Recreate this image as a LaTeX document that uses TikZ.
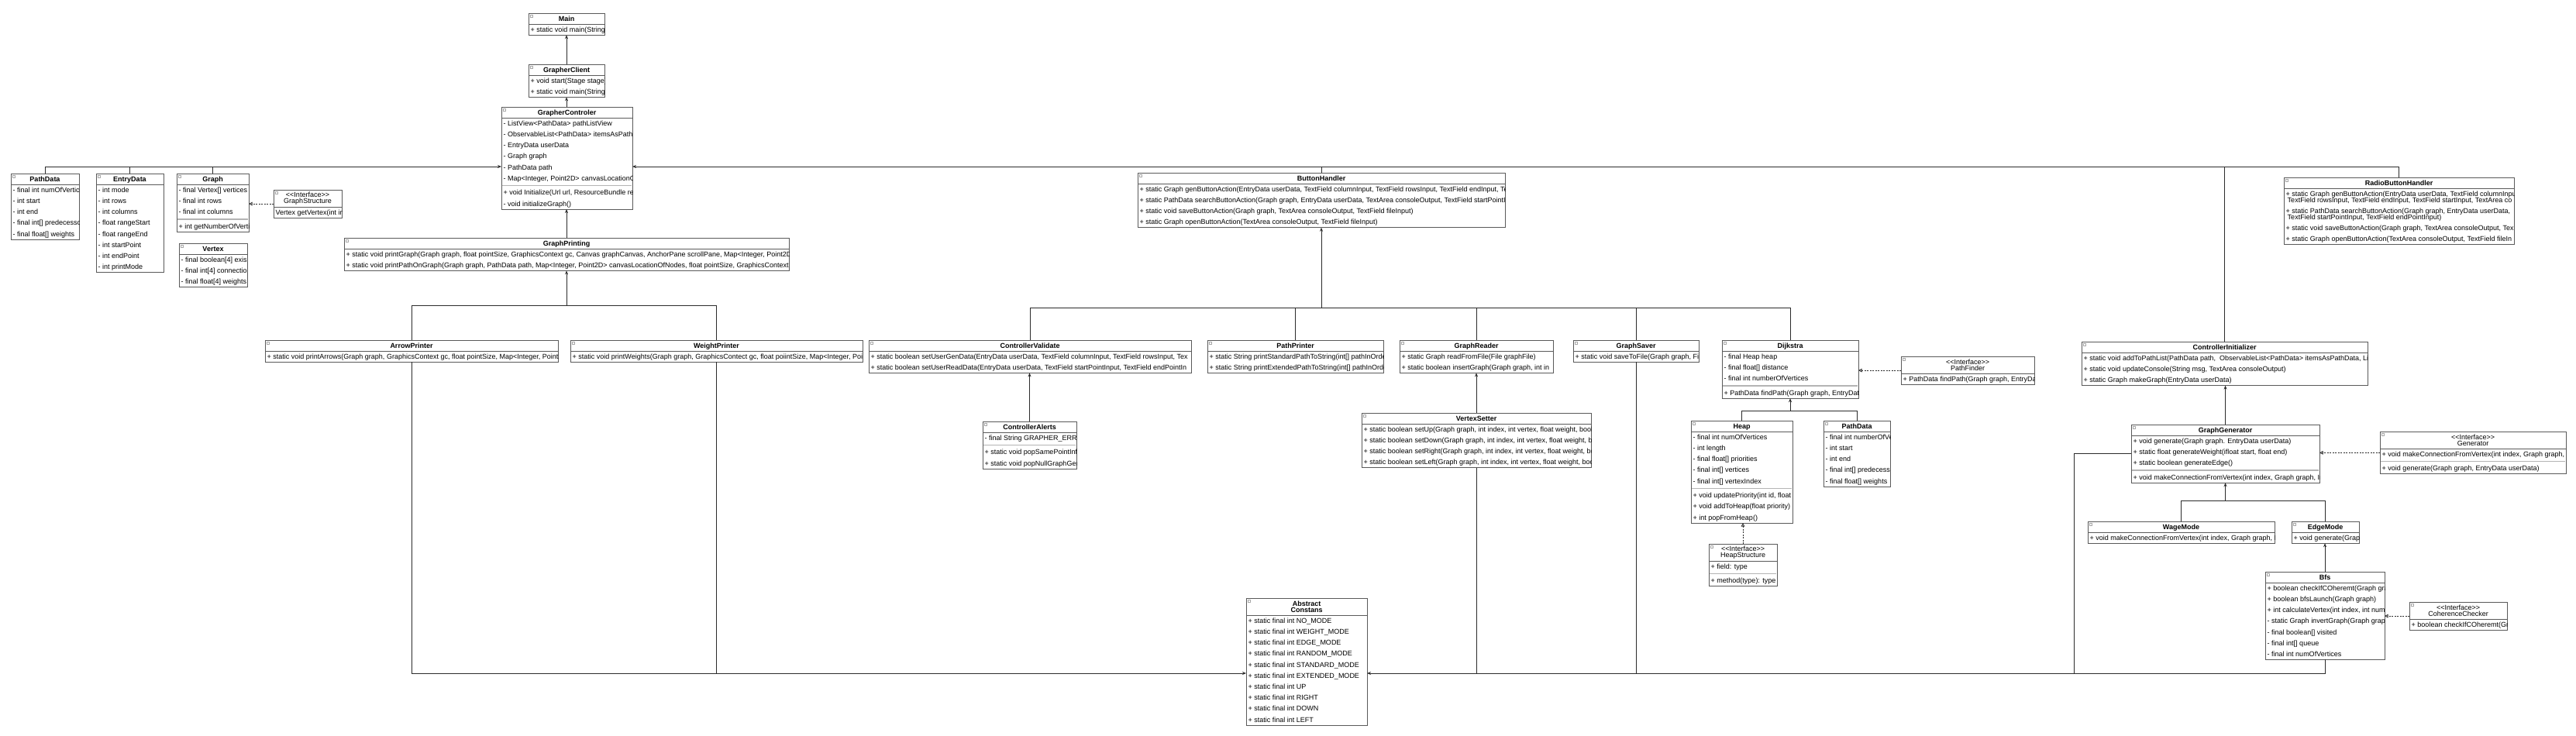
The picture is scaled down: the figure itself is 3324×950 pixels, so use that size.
\documentclass[tikz,border=0pt]{standalone}
\usepackage{fontspec}
\setmainfont{Liberation Sans}
\usetikzlibrary{arrows.meta,calc}
\definecolor{bdr}{HTML}{5A5A5A}
\definecolor{lnc}{HTML}{2B2B2B}
\definecolor{sepc}{HTML}{B4B4B4}
\definecolor{icn}{HTML}{A8A8A8}
\tikzset{
 cbox/.style={draw=bdr, fill=white, line width=0.9pt, inner sep=0pt, outer sep=0pt},
 hline/.style={draw=bdr, line width=0.9pt},
 sepl/.style={draw=sepc, line width=1.4pt},
 rowtxt/.style={anchor=base west, inner sep=0pt, font=\fontsize{9}{10}\selectfont},
 ttl/.style={anchor=base, yshift=-3.2pt, inner sep=0pt, font=\bfseries\fontsize{9}{10}\selectfont},
 ititle/.style={anchor=center, align=center, inner sep=0pt, font=\fontsize{9}{8}\selectfont},
 wire/.style={draw=lnc, line width=0.9pt},
 arr/.style={wire, -{Stealth[length=5pt,width=4pt]}},
 real/.style={draw=lnc, line width=0.8pt, dash pattern=on 2pt off 1.5pt, -{Triangle[open,length=4.5pt,width=4.5pt]}},
 icon/.style={draw=icn, line width=0.4pt},
}
% name, x, y, w, h, header height, title style, title
\newcommand\umlbox[8]{%
 \node[cbox, minimum width=#4pt, minimum height=#5pt, anchor=north west] (#1) at (#2,#3) {};
 \draw[hline] (#2,{#3+#6}) -- ++(#4,0);
 \draw[icon] ({#2+1.8},{#3+1.8}) rectangle ++(3.2,3.2);
 \node[#7] (#1-t) at ({#2+#4/2},{#3+#6/2}) {#8};}
% prefix, box, x, y of first row centre, list
\newcommand\umlrows[5]{%
 \begin{scope}
 \clip (#2.north west) rectangle (#2.south east);
 \foreach \t [count=\i] in {#5}{\node[rowtxt] (#1\i) at ({#3+2.5},{#4+(\i-1)*14.2+3.2}) {\t};}
 \end{scope}}
\newcommand\umlsep[3]{\draw[sepl] ({#1+0.6},#2) -- ({#1+#3-0.6},#2);}
\begin{document}
\begin{tikzpicture}[x=1pt,y=-1pt]
\fill[white] (0,0) rectangle (3324,950);
\useasboundingbox (0,0) rectangle (3324,950);

% Main
\umlbox{main}{682}{17}{98}{28.2}{14}{ttl}{Main}
\umlrows{main-r}{main}{682}{38.1}{{+ static void main(String}}
% GrapherClient
\umlbox{client}{682}{83}{98}{42.4}{14}{ttl}{GrapherClient}
\umlrows{client-r}{client}{682}{104.1}{{+ void start(Stage stage)},{+ static void main(String}}
% GrapherControler
\umlbox{ctrl}{647}{138}{169}{132}{14}{ttl}{GrapherControler}
\umlrows{ctrl-a}{ctrl}{647}{159.1}{{- ListView<PathData> pathListView},{- ObservableList<PathData> itemsAsPathD},{- EntryData userData},{- Graph graph},{- PathData path},{- Map<Integer, Point2D> canvasLocationO}}
\umlsep{647}{239.4}{169}
\umlrows{ctrl-m}{ctrl}{647}{248.7}{{+ void Initialize(Url url, ResourceBundle res},{- void initializeGraph()}}
% PathData (left)
\umlbox{pdl}{14}{224}{88}{85}{14}{ttl}{PathData}
\umlrows{pdl-a}{pdl}{14}{245.1}{{- final int numOfVertice},{- int start},{- int end},{- final int[] predecesso},{- final float[] weights}}
% EntryData
\umlbox{entry}{124}{224}{87}{127.6}{14}{ttl}{EntryData}
\umlrows{entry-a}{entry}{124}{245.1}{{- int mode},{- int rows},{- int columns},{- float rangeStart},{- float rangeEnd},{- int startPoint},{- int endPoint},{- int printMode}}
% Graph
\umlbox{graph}{228}{224}{93}{75.2}{14}{ttl}{Graph}
\umlrows{graph-a}{graph}{228}{245.1}{{- final Vertex[] vertices},{- final int rows},{- final int columns}}
\umlsep{228}{282.8}{93}
\umlrows{graph-m}{graph}{228}{292.1}{{+ int getNumberOfVerti}}
% Vertex
\umlbox{vertex}{231}{314}{88}{56.6}{14}{ttl}{Vertex}
\umlrows{vertex-a}{vertex}{231}{335.1}{{- final boolean[4] exis},{- final int[4] connectio},{- final float[4] weights}}
% GraphStructure
\umlbox{gstruct}{353}{245}{88}{36.2}{22}{ititle}{<{}<Interface>{}>\\GraphStructure}
\umlrows{gstruct-a}{gstruct}{353}{274.1}{{Vertex getVertex(int in}}
% GraphPrinting
\umlbox{gprint}{444}{307}{574}{42.4}{14}{ttl}{GraphPrinting}
\umlrows{gprint-m}{gprint}{444}{328.1}{{+ static void printGraph(Graph graph, float pointSize, GraphicsContext gc, Canvas graphCanvas, AnchorPane scrollPane, Map<Integer, Point2D>},{+ static void printPathOnGraph(Graph graph, PathData path, Map<Integer, Point2D> canvasLocationOfNodes, float pointSize, GraphicsContext gc}}
% ArrowPrinter
\umlbox{arrowp}{342}{439}{378}{28.2}{14}{ttl}{ArrowPrinter}
\umlrows{arrowp-m}{arrowp}{342}{460.1}{{+ static void printArrows(Graph graph, GraphicsContext gc, float pointSize, Map<Integer, Point2}}
% WeightPrinter
\umlbox{weightp}{736}{439}{377}{28.2}{14}{ttl}{WeightPrinter}
\umlrows{weightp-m}{weightp}{736}{460.1}{{+ static void printWeights(Graph graph, GraphicsContect gc, float poiintSize, Map<Integer, Poi}}
% ButtonHandler
\umlbox{button}{1468}{223}{474}{70.8}{14}{ttl}{ButtonHandler}
\umlrows{button-m}{button}{1468}{244.1}{{+ static Graph genButtonAction(EntryData userData, TextField columnInput, TextField rowsInput, TextField endInput, Tex},{+ static PathData searchButtonAction(Graph graph, EntryData userData, TextArea consoleOutput, TextField startPointIn},{+ static void saveButtonAction(Graph graph, TextArea consoleOutput, TextField fileInput)},{+ static Graph openButtonAction(TextArea consoleOutput, TextField fileInput)}}
% RadioButtonHandler
\umlbox{radio}{2947}{229}{297}{86.4}{14}{ttl}{RadioButtonHandler}
\begin{scope}
\clip (radio.north west) rectangle (radio.south east);
\node[rowtxt] (radio-r1) at (2949.5,253.5) {+ static Graph genButtonAction(EntryData userData, TextField columnInpu};
\node[rowtxt] (radio-r1b) at (2951.5,261) {TextField rowsInput, TextField endInput, TextField startInput, TextArea co};
\node[rowtxt] (radio-r2) at (2949.5,275.5) {+ static PathData searchButtonAction(Graph graph, EntryData userData,};
\node[rowtxt] (radio-r2b) at (2951.5,283) {TextField startPointInput, TextField endPointInput)};
\node[rowtxt] (radio-r3) at (2949.5,297.3) {+ static void saveButtonAction(Graph graph, TextArea consoleOutput, Tex};
\node[rowtxt] (radio-r4) at (2949.5,311.5) {+ static Graph openButtonAction(TextArea consoleOutput, TextField fileIn};
\end{scope}
% ControllerValidate
\umlbox{cvalid}{1121}{439}{416}{42.4}{14}{ttl}{ControllerValidate}
\umlrows{cvalid-m}{cvalid}{1121}{460.1}{{+ static boolean setUserGenData(EntryData userData, TextField columnInput, TextField rowsInput, Tex},{+ static boolean setUserReadData(EntryData userData, TextField startPointInput, TextField endPointIn}}
% PathPrinter
\umlbox{ppath}{1558}{439}{227}{42.4}{14}{ttl}{PathPrinter}
\umlrows{ppath-m}{ppath}{1558}{460.1}{{+ static String printStandardPathToString(int[] pathInOrde},{+ static String printExtendedPathToString(int[] pathInOrde}}
% GraphReader
\umlbox{greader}{1806}{439}{198}{42.4}{14}{ttl}{GraphReader}
\umlrows{greader-m}{greader}{1806}{460.1}{{+ static Graph readFromFile(File graphFile)},{+ static boolean insertGraph(Graph graph, int in}}
% GraphSaver
\umlbox{gsaver}{2030}{439}{162}{28.2}{14}{ttl}{GraphSaver}
\umlrows{gsaver-m}{gsaver}{2030}{460.1}{{+ static void saveToFile(Graph graph, Fi}}
% Dijkstra
\umlbox{dijkstra}{2222}{439}{176}{75.2}{14}{ttl}{Dijkstra}
\umlrows{dijkstra-a}{dijkstra}{2222}{460.1}{{- final Heap heap},{- final float[] distance},{- final int numberOfVertices}}
\umlsep{2222}{497.8}{176}
\umlrows{dijkstra-m}{dijkstra}{2222}{507.1}{{+ PathData findPath(Graph graph, EntryDat}}
% PathFinder
\umlbox{pfinder}{2453}{460}{172}{36.2}{22}{ititle}{<{}<Interface>{}>\\PathFinder}
\umlrows{pfinder-m}{pfinder}{2453}{489.1}{{+ PathData findPath(Graph graph, EntryDa}}
% ControllerInitializer
\umlbox{cinit}{2686}{441}{369}{56.6}{14}{ttl}{ControllerInitializer}
\umlrows{cinit-m}{cinit}{2686}{462.1}{{+ static void addToPathList(PathData path,\ \ ObservableList<PathData> itemsAsPathData, Li},{+ static void updateConsole(String msg, TextArea consoleOutput)},{+ static Graph makeGraph(EntryData userData)}}
% GraphGenerator
\umlbox{ggen}{2750}{548}{243}{75.2}{14}{ttl}{GraphGenerator}
\umlrows{ggen-a}{ggen}{2750}{569.1}{{+ void generate(Graph graph. EntryData userData)},{+ static float generateWeight(ifloat start, float end)},{+ static boolean generateEdge()}}
\umlsep{2750}{606.8}{243}
\umlrows{ggen-m}{ggen}{2750}{616.1}{{+ void makeConnectionFromVertex(int index, Graph graph, In}}
% Generator
\umlbox{generator}{3071}{557}{240}{54.8}{22}{ititle}{<{}<Interface>{}>\\Generator}
\umlrows{generator-a}{generator}{3071}{586.1}{{+ void makeConnectionFromVertex(int index, Graph graph,}}
\umlsep{3071}{595.4}{240}
\umlrows{generator-m}{generator}{3071}{604.7}{{+ void generate(Graph graph, EntryData userData)}}
% ControllerAlerts
\umlbox{alerts}{1268}{544}{121}{61}{14}{ttl}{ControllerAlerts}
\umlrows{alerts-a}{alerts}{1268}{565.1}{{- final String GRAPHER\_ERRO}}
\umlsep{1268}{574.4}{121}
\umlrows{alerts-m}{alerts}{1268}{583.7}{{+ static void popSamePointInfo},{+ static void popNullGraphGen}}
% VertexSetter
\umlbox{vsetter}{1757}{533}{296}{70.8}{14}{ttl}{VertexSetter}
\umlrows{vsetter-m}{vsetter}{1757}{554.1}{{+ static boolean setUp(Graph graph, int index, int vertex, float weight, bool},{+ static boolean setDown(Graph graph, int index, int vertex, float weight, bo},{+ static boolean setRight(Graph graph, int index, int vertex, float weight, bo},{+ static boolean setLeft(Graph graph, int index, int vertex, float weight, boo}}
% Heap
\umlbox{heap}{2182}{543}{131}{132}{14}{ttl}{Heap}
\umlrows{heap-a}{heap}{2182}{564.1}{{- final int numOfVertices},{- int length},{- final float[] priorities},{- final int[] vertices},{- final int[] vertexIndex}}
\umlsep{2182}{630.2}{131}
\umlrows{heap-m}{heap}{2182}{639.5}{{+ void updatePriority(int id, float},{+ void addToHeap(float priority)},{+ int popFromHeap()}}
% PathData (right)
\umlbox{pdr}{2353}{543}{86}{85}{14}{ttl}{PathData}
\umlrows{pdr-a}{pdr}{2353}{564.1}{{- final int numberOfVe},{- int start},{- int end},{- final int[] predecess},{- final float[] weights}}
% HeapStructure
\umlbox{hstruct}{2205}{702}{88}{54.8}{22}{ititle}{<{}<Interface>{}>\\HeapStructure}
\umlrows{hstruct-a}{hstruct}{2205}{731.1}{{+ field: type}}
\umlsep{2205}{740.4}{88}
\umlrows{hstruct-m}{hstruct}{2205}{749.7}{{+ method(type): type}}
% Abstract Constans
\umlbox{constans}{1608}{772}{156}{164}{22}{ititle,font=\bfseries\fontsize{9}{8}\selectfont}{Abstract\\Constans}
\umlrows{constans-a}{constans}{1608}{801.1}{{+ static final int NO\_MODE},{+ static final int WEIGHT\_MODE},{+ static final int EDGE\_MODE},{+ static final int RANDOM\_MODE},{+ static final int STANDARD\_MODE},{+ static final int EXTENDED\_MODE},{+ static final int UP},{+ static final int RIGHT},{+ static final int DOWN},{+ static final int LEFT}}
% WageMode
\umlbox{wage}{2694}{673}{241}{28.2}{14}{ttl}{WageMode}
\umlrows{wage-m}{wage}{2694}{694.1}{{+ void makeConnectionFromVertex(int index, Graph graph, I}}
% EdgeMode
\umlbox{edge}{2957}{673}{87}{28.2}{14}{ttl}{EdgeMode}
\umlrows{edge-m}{edge}{2957}{694.1}{{+ void generate(Graph}}
% Bfs
\umlbox{bfs}{2923}{738}{154}{113.4}{14}{ttl}{Bfs}
\umlrows{bfs-a}{bfs}{2923}{759.1}{{+ boolean checkIfCOheremt(Graph gra},{+ boolean bfsLaunch(Graph graph)},{+ int calculateVertex(int index, int num},{- static Graph invertGraph(Graph grap},{- final boolean[] visited},{- final int[] queue},{- final int numOfVertices}}
% CoherenceChecker
\umlbox{coher}{3109}{777}{126}{36.2}{22}{ititle}{<{}<Interface>{}>\\CoherenceChecker}
\umlrows{coher-m}{coher}{3109}{806.1}{{+ boolean checkIfCOheremt(Gra}}

% ---------- connectors ----------
\coordinate (busy) at (0,215);
\coordinate (gpy) at (0,394);
\coordinate (bty) at (0,397);
\coordinate (hy) at (0,530);
\coordinate (wy) at (0,646);
\coordinate (by) at (0,869);
\coordinate (ggx) at (2676,0);

\draw[arr] (client.north) -- (client.north |- main.south);
\draw[arr] (ctrl.north -| client.north) -- (client.south);
\draw[arr] (gprint.north) -- (gprint.north |- ctrl.south);

\draw[arr] (pdl.north) |- (ctrl.west |- busy);
\draw[wire] (entry.north) -- (entry.north |- busy);
\draw[wire] (graph.north) -- (graph.north |- busy);
\draw[arr] (radio.north) |- (ctrl.east |- busy);
\draw[wire] (button.north) -- (button.north |- busy);
\draw[wire] (cinit.north) -- (cinit.north |- busy);

\draw[wire] (arrowp.north) |- (weightp.north |- gpy) -- (weightp.north);
\draw[arr] (gprint.south |- gpy) -- (gprint.south);

\draw[wire] (cvalid.north) |- (dijkstra.north |- bty) -- (dijkstra.north);
\draw[wire] (ppath.north) -- (ppath.north |- bty);
\draw[wire] (greader.north) -- (greader.north |- bty);
\draw[wire] (gsaver.north) -- (gsaver.north |- bty);
\draw[arr] (button.south |- bty) -- (button.south);

\draw[arr] (alerts.north) -- (alerts.north |- cvalid.south);
\draw[arr] (vsetter.north) -- (vsetter.north |- greader.south);

\draw[wire] (heap.north) |- (pdr.north |- hy) -- (pdr.north);
\draw[arr] (dijkstra.south |- hy) -- (dijkstra.south);

\draw[real] (hstruct.north) -- (hstruct.north |- heap.south);
\draw[real] (pfinder.west) -- (pfinder.west -| dijkstra.east);
\draw[real] (gstruct.west) -- (gstruct.west -| graph.east);
\draw[real] (generator.west) -- (generator.west -| ggen.east);
\draw[real] (coher.west) -- (coher.west -| bfs.east);

\draw[arr] (ggen.north) -- (ggen.north |- cinit.south);
\draw[wire] (wage.north) |- (edge.north |- wy) -- (edge.north);
\draw[arr] (ggen.south |- wy) -- (ggen.south);
\draw[arr] (bfs.north) -- (bfs.north |- edge.south);

\draw[wire] (weightp.south) -- (weightp.south |- by);
\draw[arr] (arrowp.south) |- (constans.west |- by);
\draw[arr] (bfs.south) |- (constans.east |- by);
\draw[wire] (vsetter.south) -- (vsetter.south |- by);
\draw[wire] (gsaver.south) -- (gsaver.south |- by);
\draw[wire] (ggen.west) -- (ggen.west -| ggx) -- (ggx |- by);
\end{tikzpicture}
\end{document}
